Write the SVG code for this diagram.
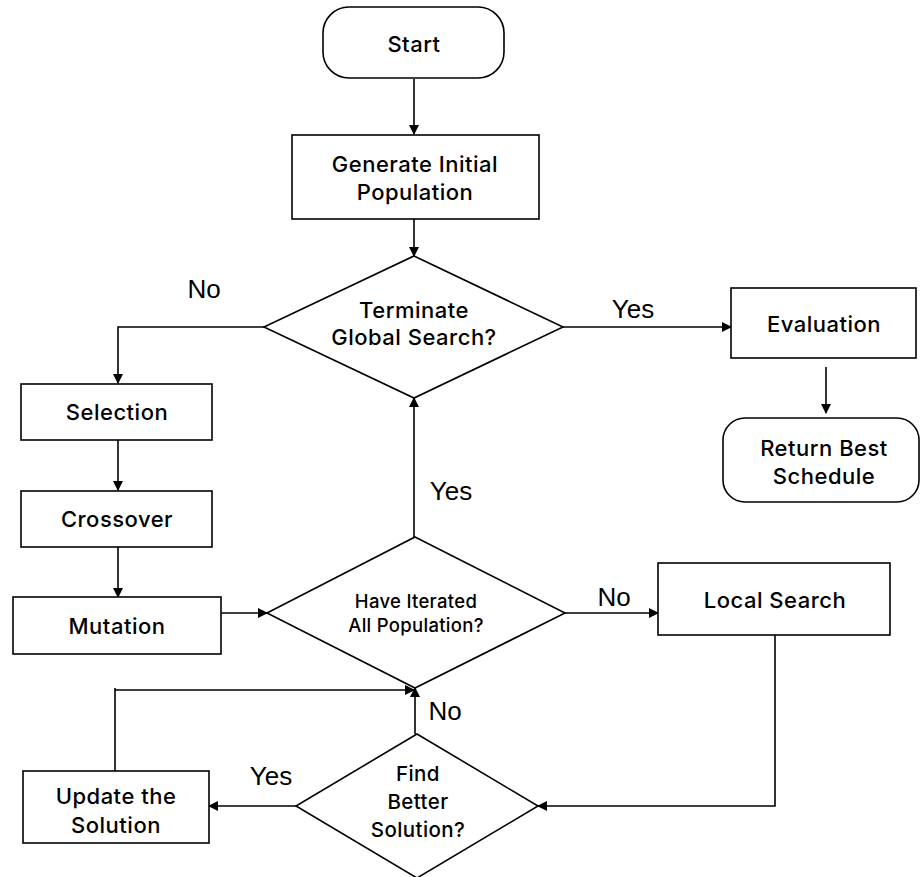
<svg xmlns="http://www.w3.org/2000/svg" width="920" height="877" viewBox="0 0 920 877">
<defs>
<marker id="ah" markerWidth="10" markerHeight="10" refX="9" refY="5" orient="auto" markerUnits="userSpaceOnUse">
<path d="M0,0 L10,5 L0,10 Z" fill="#000"/>
</marker>
<style>
.shape{fill:#fff;stroke:#000;stroke-width:1.6}
.line{fill:none;stroke:#000;stroke-width:1.6}
.t{font-family:Inter,"Liberation Sans",Arial,sans-serif;font-weight:500;font-size:22px;letter-spacing:0.5px;fill:#000;text-anchor:middle}
.ts{font-family:Inter,"Liberation Sans",Arial,sans-serif;font-weight:500;font-size:18.5px;letter-spacing:0.3px;fill:#000;text-anchor:middle}
.tf{font-family:Inter,"Liberation Sans",Arial,sans-serif;font-weight:500;font-size:20.5px;letter-spacing:0.4px;fill:#000;text-anchor:middle}
.lbl{font-family:"Liberation Sans",Arial,sans-serif;font-size:26px;fill:#000;text-anchor:middle}
</style>
</defs>
<rect width="920" height="877" fill="#fff"/>
<g id="connectors">
<path class="line" d="M414,79 V134" marker-end="url(#ah)"/>
<path class="line" d="M414,219 V256" marker-end="url(#ah)"/>
<path class="line" d="M264,327 H118 V383" marker-end="url(#ah)"/>
<path class="line" d="M118,440 V490" marker-end="url(#ah)"/>
<path class="line" d="M118,547 V597" marker-end="url(#ah)"/>
<path class="line" d="M221,613 H267" marker-end="url(#ah)"/>
<path class="line" d="M563,327 H731" marker-end="url(#ah)"/>
<path class="line" d="M826,367 V413" marker-end="url(#ah)"/>
<path class="line" d="M414,537 V398" marker-end="url(#ah)"/>
<path class="line" d="M565,613 H658" marker-end="url(#ah)"/>
<path class="line" d="M775,635 V806 H538" marker-end="url(#ah)"/>
<path class="line" d="M296,806 H209" marker-end="url(#ah)"/>
<path class="line" d="M115,771 V688 M115,690 H414" marker-end="url(#ah)"/>
<path class="line" d="M415,734 V688" marker-end="url(#ah)"/>
<text class="lbl" x="204" y="298">No</text>
<text class="lbl" x="633" y="318">Yes</text>
<text class="lbl" x="451" y="500">Yes</text>
<text class="lbl" x="614" y="606">No</text>
<text class="lbl" x="445" y="720">No</text>
<text class="lbl" x="271" y="785">Yes</text>
</g>
<g id="start">
<rect class="shape" x="323" y="7" width="181" height="71" rx="26"/>
<text class="t" x="414" y="52">Start</text>
</g>
<g id="generate">
<rect class="shape" x="292" y="135" width="247" height="84"/>
<text class="t" x="415" y="172">Generate Initial</text>
<text class="t" x="415" y="200">Population</text>
</g>
<g id="terminate">
<polygon class="shape" points="414,256 563,327 414,398 264,327"/>
<text class="t" x="414" y="318">Terminate</text>
<text class="t" x="414" y="345">Global Search?</text>
</g>
<g id="evaluation">
<rect class="shape" x="731" y="288" width="185" height="70"/>
<text class="t" x="824" y="332">Evaluation</text>
</g>
<g id="return">
<rect class="shape" x="723" y="418" width="196" height="84" rx="22"/>
<text class="t" x="824" y="456">Return Best</text>
<text class="t" x="824" y="484">Schedule</text>
</g>
<g id="selection">
<rect class="shape" x="21" y="384" width="191" height="56"/>
<text class="t" x="117" y="420">Selection</text>
</g>
<g id="crossover">
<rect class="shape" x="21" y="491" width="191" height="56"/>
<text class="t" x="117" y="527">Crossover</text>
</g>
<g id="mutation">
<rect class="shape" x="13" y="597" width="208" height="57"/>
<text class="t" x="117" y="634">Mutation</text>
</g>
<g id="iterated">
<polygon class="shape" points="415,537 565,613 415,688 267,613"/>
<text class="ts" x="416" y="608">Have Iterated</text>
<text class="ts" x="416" y="632">All Population?</text>
</g>
<g id="localsearch">
<rect class="shape" x="658" y="563" width="232" height="72"/>
<text class="t" x="775" y="608">Local Search</text>
</g>
<g id="findbetter">
<polygon class="shape" points="417,734 538,806 417,878 296,806"/>
<text class="tf" x="418" y="781">Find</text>
<text class="tf" x="418" y="809">Better</text>
<text class="tf" x="418" y="837">Solution?</text>
</g>
<g id="update">
<rect class="shape" x="23" y="771" width="186" height="72"/>
<text class="t" x="116" y="804">Update the</text>
<text class="t" x="116" y="833">Solution</text>
</g>
</svg>
